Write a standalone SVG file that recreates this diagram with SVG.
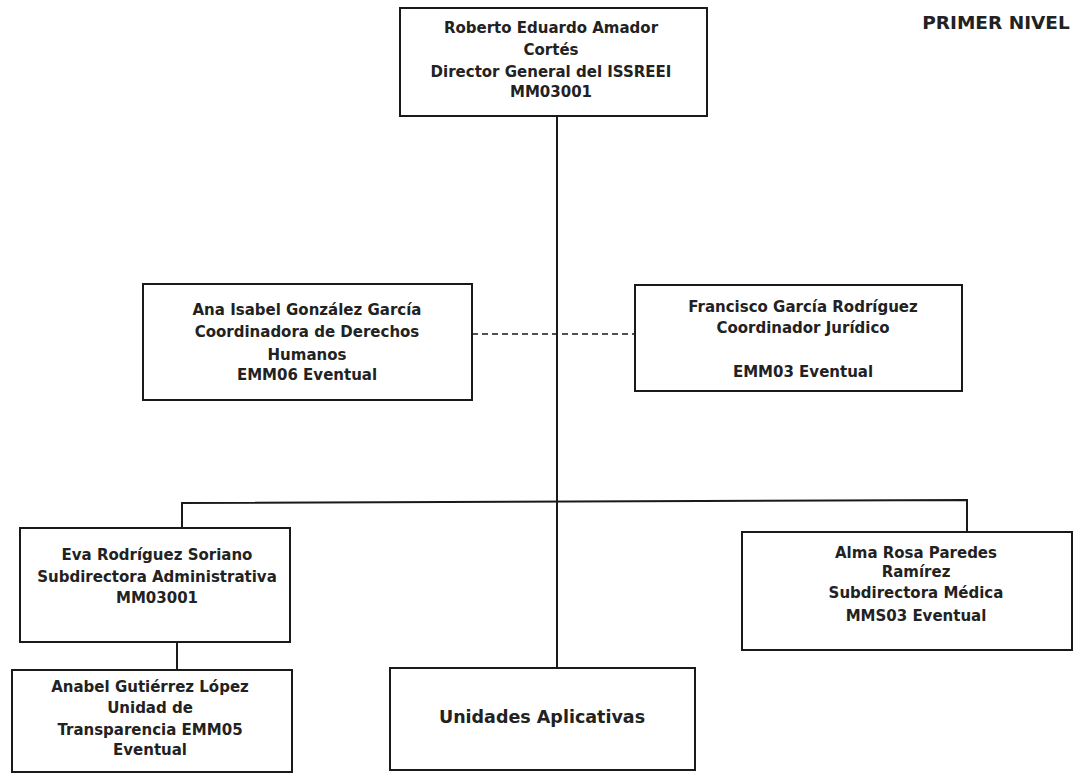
<svg xmlns="http://www.w3.org/2000/svg" width="1081" height="774" viewBox="0 0 1081 774">
<style>
.box{fill:#fff;stroke:#1a1a1a;stroke-width:2}
.t{font-family:"DejaVu Sans","Liberation Sans",sans-serif;font-weight:bold;font-size:15px;fill:#222;text-anchor:middle}
.ln{stroke:#1a1a1a;stroke-width:2;fill:none}
.dash{stroke:#1a1a1a;stroke-width:1.5;stroke-dasharray:6,4;fill:none}
</style>
<rect width="1081" height="774" fill="#fff"/>
<g id="connectors">
<line class="ln" x1="557" y1="116" x2="557" y2="694"/>
<line class="dash" x1="472" y1="334" x2="635" y2="334"/>
<polyline class="ln" points="182,528 182,503 967,500 967,532"/>
<line class="ln" x1="177" y1="642" x2="177" y2="670"/>
</g>
<g id="director">
<rect class="box" x="400" y="8" width="307" height="108"/>
<text class="t" x="551" y="33">Roberto Eduardo Amador</text>
<text class="t" x="551" y="55">Cortés</text>
<text class="t" x="551" y="77">Director General del ISSREEI</text>
<text class="t" x="551" y="97">MM03001</text>
</g>
<g id="ana">
<rect class="box" x="143" y="284" width="329" height="116"/>
<text class="t" x="307" y="315">Ana Isabel González García</text>
<text class="t" x="307" y="337">Coordinadora de Derechos</text>
<text class="t" x="307" y="360">Humanos</text>
<text class="t" x="307" y="380">EMM06 Eventual</text>
</g>
<g id="francisco">
<rect class="box" x="635" y="285" width="327" height="106"/>
<text class="t" x="803" y="312">Francisco García Rodríguez</text>
<text class="t" x="803" y="333">Coordinador Jurídico</text>
<text class="t" x="803" y="377">EMM03 Eventual</text>
</g>
<g id="eva">
<rect class="box" x="20" y="528" width="270" height="114"/>
<text class="t" x="157" y="560">Eva Rodríguez Soriano</text>
<text class="t" x="157" y="582">Subdirectora Administrativa</text>
<text class="t" x="157" y="603">MM03001</text>
</g>
<g id="alma">
<rect class="box" x="742" y="532" width="330" height="118"/>
<text class="t" x="916" y="558">Alma Rosa Paredes</text>
<text class="t" x="916" y="577">Ramírez</text>
<text class="t" x="916" y="598">Subdirectora  Médica</text>
<text class="t" x="916" y="621">MMS03 Eventual</text>
</g>
<g id="anabel">
<rect class="box" x="12" y="670" width="280" height="102"/>
<text class="t" x="150" y="692">Anabel Gutiérrez López</text>
<text class="t" x="150" y="713">Unidad de</text>
<text class="t" x="150" y="735">Transparencia EMM05</text>
<text class="t" x="150" y="755">Eventual</text>
</g>
<g id="unidades">
<rect class="box" x="390" y="668" width="305" height="102"/>
<text class="t" x="542" y="723" style="font-size:17.5px">Unidades Aplicativas</text>
</g>
<g id="nivel">
<text class="t" x="996" y="29" style="font-size:18.5px">PRIMER NIVEL</text>
</g>
</svg>
